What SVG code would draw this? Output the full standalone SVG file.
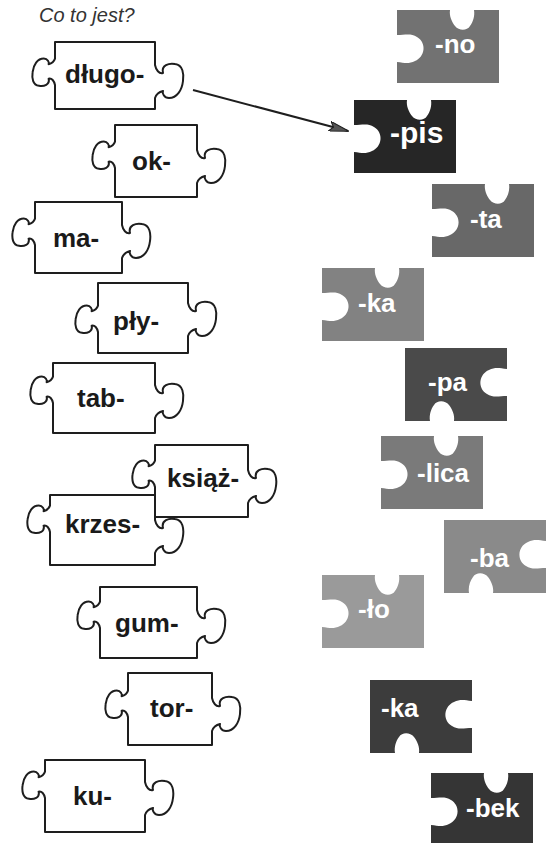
<svg xmlns="http://www.w3.org/2000/svg" xmlns:xlink="http://www.w3.org/1999/xlink" width="547" height="843" viewBox="0 0 547 843">
<style>
.w{fill:#fff;stroke:#1e1e1e;stroke-width:2;stroke-linejoin:round}
.wt{font-family:"Liberation Sans",Arial,sans-serif;font-weight:bold;font-size:26px;fill:#1a1a1a}
.dt{font-family:"Liberation Sans",Arial,sans-serif;font-weight:bold;font-size:26px;fill:#fff}
.hd{font-family:"Liberation Sans",Arial,sans-serif;font-style:italic;font-size:20px;fill:#333}
.ar{stroke:#1e1e1e;stroke-width:2;fill:none}
</style>
<defs>
<path id="dk" d="M 0,0 L 53,0 C 52,6 55,12 58,16 C 62,21 70,21 73,16 C 76,12 78,6 77,0 L 102,0 L 102,73 L 0,73 L 0,52 C 8,53 12,54 18,51 C 28,47 30,33 20,27 C 14,23 8,25 0,25 Z"/>
<marker id="ah" viewBox="0 0 20 10" refX="19" refY="5" markerWidth="20" markerHeight="10" markerUnits="userSpaceOnUse" orient="auto">
<path d="M0,0 L20,5 L0,10 L4,5 Z" fill="#555" stroke="#1e1e1e" stroke-width="1"/>
</marker>
</defs>
<rect width="547" height="843" fill="#fff"/>
<text class="hd" x="39" y="22">Co to jest?</text>

<g id="n-dlugo"><path class="w" d="M55,42 h100 v23 c1,5 4,9 8,8 c-2,-8 6,-10 12,-9 c8,1 9,10 8,17 c-1,9 -6,17 -14,17 c-5,0 -7,-5 -6,-7 c-4,1 -7,4 -8,7 v11 h-100 v-24 c-0.8,-4 -3.2,-7.2 -6.4,-6.4 c1.6,6.4 -4.8,8 -9.6,7.2 c-6.4,-0.8 -7.2,-8 -6.4,-13.6 c0.8,-7.2 4.8,-13.6 11.2,-13.6 c4,0 5.6,4 4.8,5.6 c3.2,-0.8 5.6,-3.2 6.4,-5.6 z"/><text class="wt" x="65" y="83">długo-</text></g>
<g id="n-ok"><path class="w" d="M115,125 h82 v25 c1,5 4,9 8,8 c-2,-8 6,-10 12,-9 c8,1 9,10 8,17 c-1,9 -6,17 -14,17 c-5,0 -7,-5 -6,-7 c-4,1 -7,4 -8,7 v14 h-82 v-29 c-0.8,-4 -3.2,-7.2 -6.4,-6.4 c1.6,6.4 -4.8,8 -9.6,7.2 c-6.4,-0.8 -7.2,-8 -6.4,-13.6 c0.8,-7.2 4.8,-13.6 11.2,-13.6 c4,0 5.6,4 4.8,5.6 c3.2,-0.8 5.6,-3.2 6.4,-5.6 z"/><text class="wt" x="132" y="170">ok-</text></g>
<g id="n-ma"><path class="w" d="M35,202 h87 v23 c1,5 4,9 8,8 c-2,-8 6,-10 12,-9 c8,1 9,10 8,17 c-1,9 -6,17 -14,17 c-5,0 -7,-5 -6,-7 c-4,1 -7,4 -8,7 v15 h-87 v-28 c-0.8,-4 -3.2,-7.2 -6.4,-6.4 c1.6,6.4 -4.8,8 -9.6,7.2 c-6.4,-0.8 -7.2,-8 -6.4,-13.6 c0.8,-7.2 4.8,-13.6 11.2,-13.6 c4,0 5.6,4 4.8,5.6 c3.2,-0.8 5.6,-3.2 6.4,-5.6 z"/><text class="wt" x="53" y="247">ma-</text></g>
<g id="n-ply"><path class="w" d="M98,283 h90 v20 c1,5 4,9 8,8 c-2,-8 6,-10 12,-9 c8,1 9,10 8,17 c-1,9 -6,17 -14,17 c-5,0 -7,-5 -6,-7 c-4,1 -7,4 -8,7 v17 h-90 v-21 c-0.8,-4 -3.2,-7.2 -6.4,-6.4 c1.6,6.4 -4.8,8 -9.6,7.2 c-6.4,-0.8 -7.2,-8 -6.4,-13.6 c0.8,-7.2 4.8,-13.6 11.2,-13.6 c4,0 5.6,4 4.8,5.6 c3.2,-0.8 5.6,-3.2 6.4,-5.6 z"/><text class="wt" x="113" y="330">pły-</text></g>
<g id="n-tab"><path class="w" d="M53,363 h102 v22 c1,5 4,9 8,8 c-2,-8 6,-10 12,-9 c8,1 9,10 8,17 c-1,9 -6,17 -14,17 c-5,0 -7,-5 -6,-7 c-4,1 -7,4 -8,7 v15 h-102 v-30 c-0.8,-4 -3.2,-7.2 -6.4,-6.4 c1.6,6.4 -4.8,8 -9.6,7.2 c-6.4,-0.8 -7.2,-8 -6.4,-13.6 c0.8,-7.2 4.8,-13.6 11.2,-13.6 c4,0 5.6,4 4.8,5.6 c3.2,-0.8 5.6,-3.2 6.4,-5.6 z"/><text class="wt" x="77" y="407">tab-</text></g>
<g id="n-ksiaz"><path class="w" d="M155,445 h93 v25 c1,5 4,9 8,8 c-2,-8 6,-10 12,-9 c8,1 9,10 8,17 c-1,9 -6,17 -14,17 c-5,0 -7,-5 -6,-7 c-4,1 -7,4 -8,7 v14 h-93 v-30 c-0.8,-4 -3.2,-7.2 -6.4,-6.4 c1.6,6.4 -4.8,8 -9.6,7.2 c-6.4,-0.8 -7.2,-8 -6.4,-13.6 c0.8,-7.2 4.8,-13.6 11.2,-13.6 c4,0 5.6,4 4.8,5.6 c3.2,-0.8 5.6,-3.2 6.4,-5.6 z"/><text class="wt" x="167" y="487">książ-</text></g>
<g id="n-krzes"><path class="w" d="M50,495 h105 v25 c1,5 4,9 8,8 c-2,-8 6,-10 12,-9 c8,1 9,10 8,17 c-1,9 -6,17 -14,17 c-5,0 -7,-5 -6,-7 c-4,1 -7,4 -8,7 v12 h-105 v-33 c-0.8,-4 -3.2,-7.2 -6.4,-6.4 c1.6,6.4 -4.8,8 -9.6,7.2 c-6.4,-0.8 -7.2,-8 -6.4,-13.6 c0.8,-7.2 4.8,-13.6 11.2,-13.6 c4,0 5.6,4 4.8,5.6 c3.2,-0.8 5.6,-3.2 6.4,-5.6 z"/><text class="wt" x="65" y="533">krzes-</text></g>
<g id="n-gum"><path class="w" d="M100,587 h97 v23 c1,5 4,9 8,8 c-2,-8 6,-10 12,-9 c8,1 9,10 8,17 c-1,9 -6,17 -14,17 c-5,0 -7,-5 -6,-7 c-4,1 -7,4 -8,7 v15 h-97 v-30 c-0.8,-4 -3.2,-7.2 -6.4,-6.4 c1.6,6.4 -4.8,8 -9.6,7.2 c-6.4,-0.8 -7.2,-8 -6.4,-13.6 c0.8,-7.2 4.8,-13.6 11.2,-13.6 c4,0 5.6,4 4.8,5.6 c3.2,-0.8 5.6,-3.2 6.4,-5.6 z"/><text class="wt" x="115" y="632">gum-</text></g>
<g id="n-tor"><path class="w" d="M128,673 h84 v25 c1,5 4,9 8,8 c-2,-8 6,-10 12,-9 c8,1 9,10 8,17 c-1,9 -6,17 -14,17 c-5,0 -7,-5 -6,-7 c-4,1 -7,4 -8,7 v14 h-84 v-28 c-0.8,-4 -3.2,-7.2 -6.4,-6.4 c1.6,6.4 -4.8,8 -9.6,7.2 c-6.4,-0.8 -7.2,-8 -6.4,-13.6 c0.8,-7.2 4.8,-13.6 11.2,-13.6 c4,0 5.6,4 4.8,5.6 c3.2,-0.8 5.6,-3.2 6.4,-5.6 z"/><text class="wt" x="150" y="717">tor-</text></g>
<g id="n-ku"><path class="w" d="M45,760 h100 v22 c1,5 4,9 8,8 c-2,-8 6,-10 12,-9 c8,1 9,10 8,17 c-1,9 -6,17 -14,17 c-5,0 -7,-5 -6,-7 c-4,1 -7,4 -8,7 v17 h-100 v-34 c-0.8,-4 -3.2,-7.2 -6.4,-6.4 c1.6,6.4 -4.8,8 -9.6,7.2 c-6.4,-0.8 -7.2,-8 -6.4,-13.6 c0.8,-7.2 4.8,-13.6 11.2,-13.6 c4,0 5.6,4 4.8,5.6 c3.2,-0.8 5.6,-3.2 6.4,-5.6 z"/><text class="wt" x="73" y="805">ku-</text></g>

<g id="s-no"><use xlink:href="#dk" fill="#727272" transform="translate(397,10)"/><text class="dt" x="435" y="53">-no</text></g>
<g id="s-pis"><use xlink:href="#dk" fill="#262626" transform="translate(354,100)"/><text class="dt" x="390" y="143" style="font-size:30px">-pis</text></g>
<g id="s-ta"><use xlink:href="#dk" fill="#686868" transform="translate(432,184)"/><text class="dt" x="470" y="228">-ta</text></g>
<g id="s-ka1"><use xlink:href="#dk" fill="#828282" transform="translate(322,268)"/><text class="dt" x="358" y="312">-ka</text></g>
<g id="s-pa"><use xlink:href="#dk" fill="#4a4a4a" transform="translate(507,421) rotate(180)"/><text class="dt" x="428" y="391">-pa</text></g>
<g id="s-lica"><use xlink:href="#dk" fill="#7a7a7a" transform="translate(381,436)"/><text class="dt" x="417" y="482">-lica</text></g>
<g id="s-ba"><use xlink:href="#dk" fill="#8a8a8a" transform="translate(546,593) rotate(180)"/><text class="dt" x="470" y="567">-ba</text></g>
<g id="s-lo"><use xlink:href="#dk" fill="#9a9a9a" transform="translate(322,575)"/><text class="dt" x="358" y="618">-ło</text></g>
<g id="s-ka2"><use xlink:href="#dk" fill="#3c3c3c" transform="translate(472,753) rotate(180)"/><text class="dt" x="381" y="717">-ka</text></g>
<g id="s-bek"><use xlink:href="#dk" fill="#353535" transform="translate(431,773)"/><text class="dt" x="466" y="817">-bek</text></g>

<g id="connectors"><path class="ar" d="M193,90 L348,131" marker-end="url(#ah)"/></g>
</svg>
